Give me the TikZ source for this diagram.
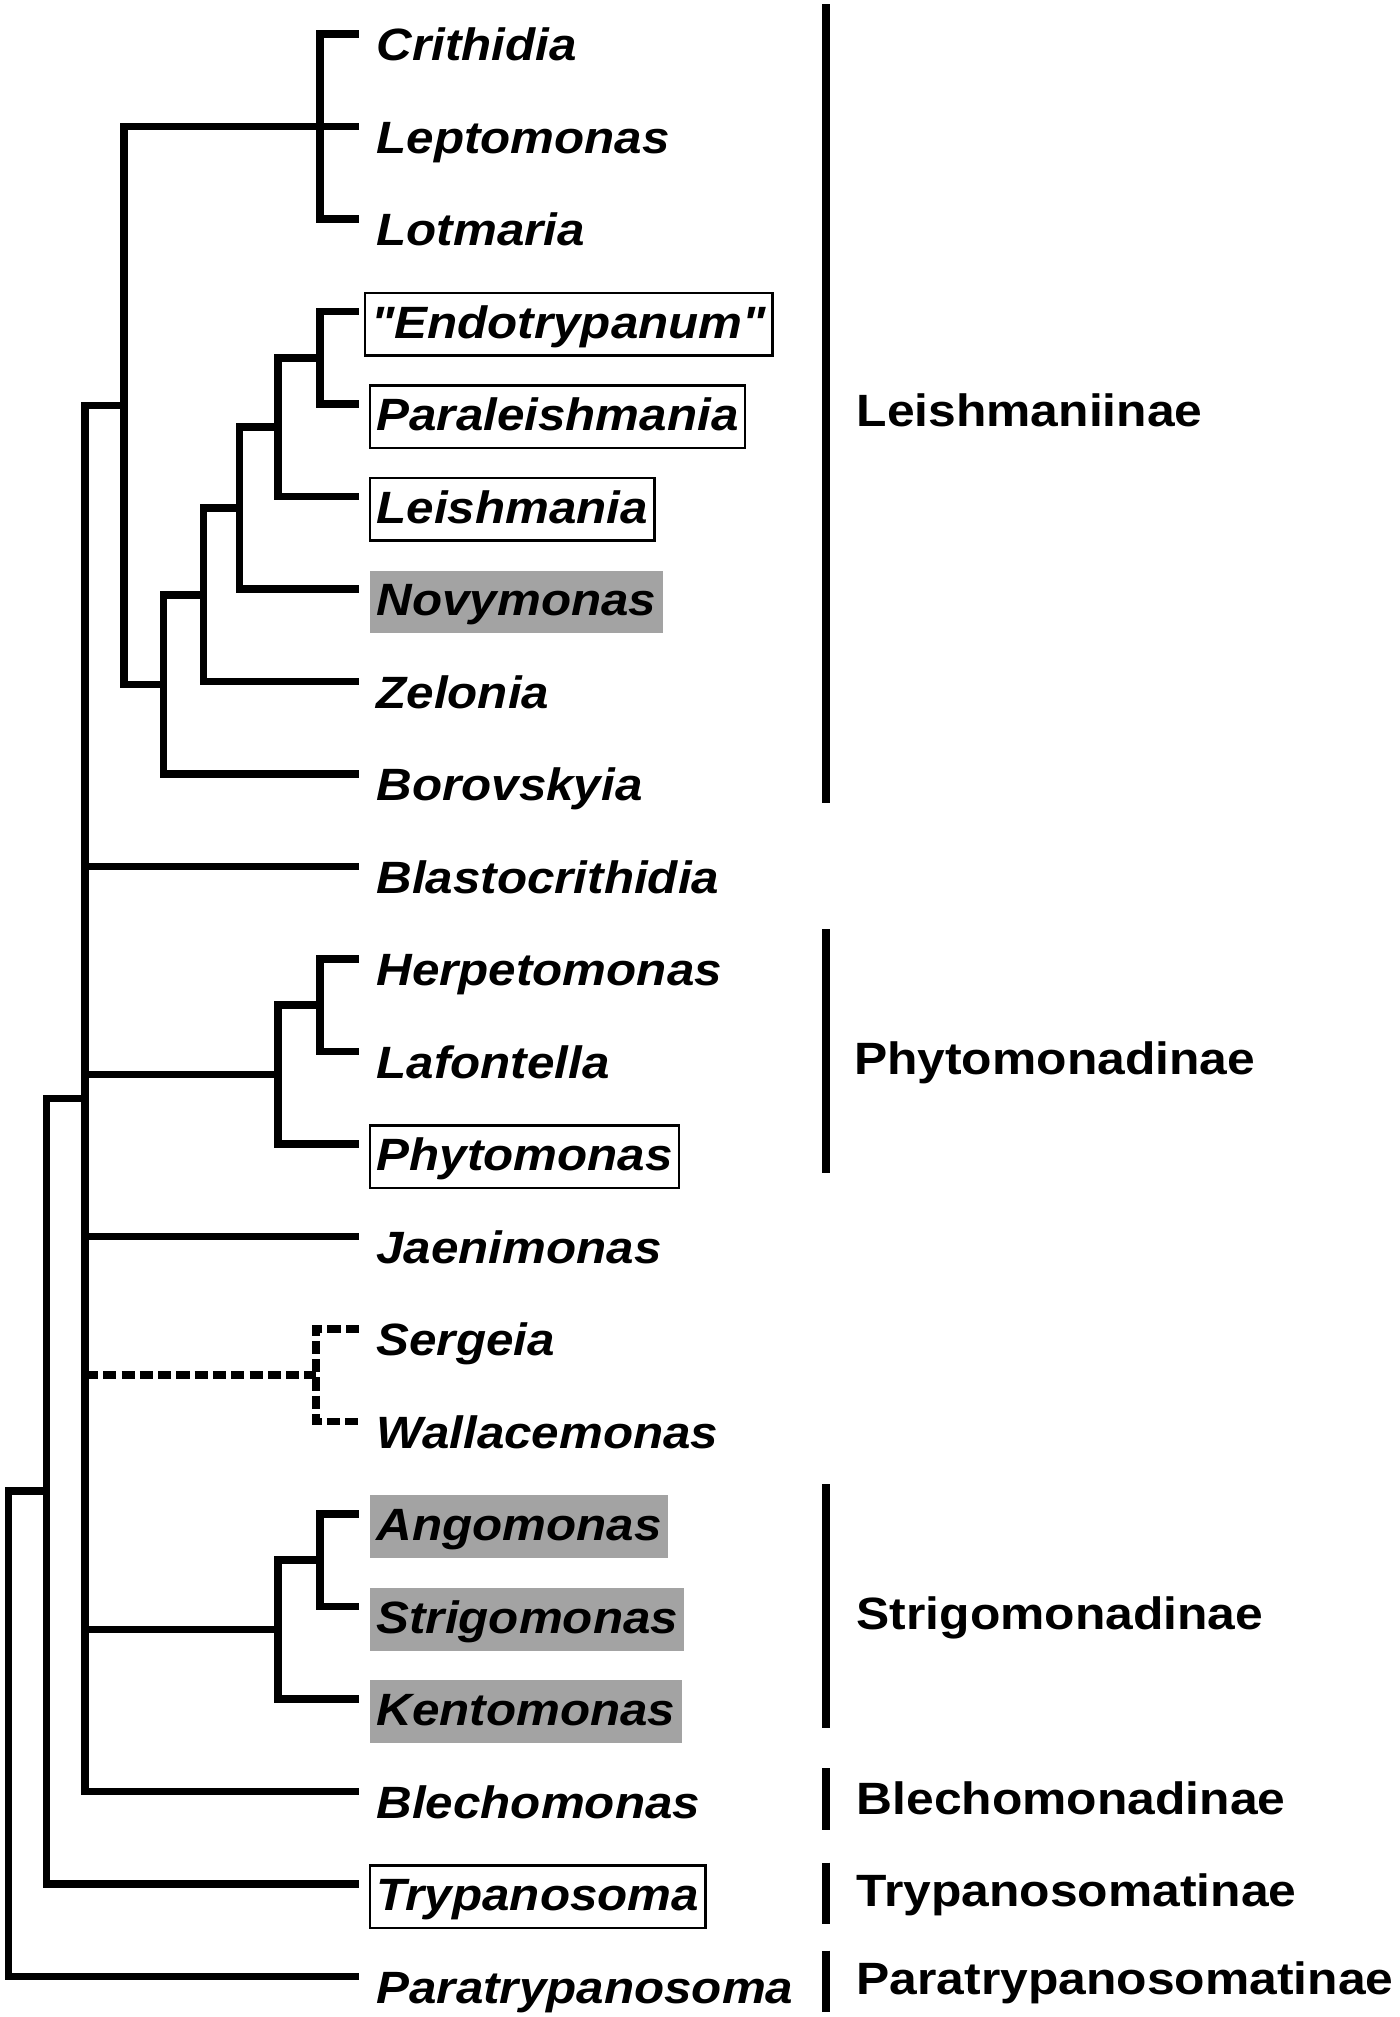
\documentclass[tikz,border=0pt]{standalone}
\usepackage{fontspec}
\setmainfont{Liberation Sans}
\newfontfamily\taxonfont{Liberation Sans}[FakeStretch=1.09]
\newfontfamily\subfamfont{Liberation Sans}[FakeStretch=1.10]
\definecolor{shade}{HTML}{A3A3A3}
\tikzset{
  branch/.style={line width=4.2pt},
  uncertain/.style={line width=4.2pt,dash pattern=on 7.3pt off 2.8pt},
  taxon/.style={anchor=base west,inner xsep=3.5pt,inner ysep=4pt,outer sep=0pt,
    text height=21pt,text depth=5.6pt,xshift=6.2pt,yshift=-14.8pt,
    font=\taxonfont\bfseries\itshape\fontsize{25}{30}\selectfont},
  boxed/.style={draw,line width=1.3pt},
  shaded/.style={fill=shade},
  subfam/.style={anchor=base west,inner sep=0pt,yshift=-12.5pt,
    font=\subfamfont\bfseries\fontsize{25}{30}\selectfont},
  subfambar/.style={line width=4.5pt}
}

\begin{document}
\begin{tikzpicture}[x=0.025cm,y=-1.7955cm]
			\useasboundingbox (0,-0.3676) rectangle (1087,21.4386);

			% leaf tips
			\coordinate (crith_tip) at (278.8,0);
			\coordinate (lept_tip) at (278.8,1);
			\coordinate (lotm_tip) at (278.8,2);
			\coordinate (endo_tip) at (278.8,3);
			\coordinate (paral_tip) at (278.8,4);
			\coordinate (leish_tip) at (278.8,5);
			\coordinate (novy_tip) at (278.8,6);
			\coordinate (zel_tip) at (278.8,7);
			\coordinate (boro_tip) at (278.8,8);
			\coordinate (blasto_tip) at (278.8,9);
			\coordinate (herp_tip) at (278.8,10);
			\coordinate (laf_tip) at (278.8,11);
			\coordinate (phyto_tip) at (278.8,12);
			\coordinate (jaen_tip) at (278.8,13);
			\coordinate (serg_tip) at (278.8,14);
			\coordinate (wall_tip) at (278.8,15);
			\coordinate (ango_tip) at (278.8,16);
			\coordinate (strig_tip) at (278.8,17);
			\coordinate (kento_tip) at (278.8,18);
			\coordinate (blech_tip) at (278.8,19);
			\coordinate (tryp_tip) at (278.8,20);
			\coordinate (paratr_tip) at (278.8,21);

			% inner nodes
			\coordinate (n_crith) at (248.5,1);
			\coordinate (n_endo) at (248.5,3.5);
			\coordinate (n_leish) at (216,4.25);
			\coordinate (n_novy) at (186,5.125);
			\coordinate (n_zel) at (158,6.0625);
			\coordinate (n_boro) at (127,7.03125);
			\coordinate (n_leishinae) at (96.3,4.015625);
			\coordinate (n_herp) at (248.5,10.5);
			\coordinate (n_phyto) at (216,11.25);
			\coordinate (n_serg) at (245.4,14.5);
			\coordinate (n_ango) at (248.5,16.5);
			\coordinate (n_strigo) at (216,17.25);
			\coordinate (n_core) at (66,11.5078);
			\coordinate (n_tryp) at (36.2,15.7539);
			\coordinate (n_root) at (6.5,18.377);

			% taxa
			\node[taxon] (crith) at (crith_tip) {Crithidia};
			\node[taxon] (lept) at (lept_tip) {Leptomonas};
			\node[taxon] (lotm) at (lotm_tip) {Lotmaria};
			\node[taxon,boxed,xshift=-3pt] (endo) at (endo_tip) {"Endotrypanum"};
			\node[taxon,boxed] (paral) at (paral_tip) {Paraleishmania};
			\node[taxon,boxed] (leish) at (leish_tip) {Leishmania};
			\node[taxon,shaded] (novy) at (novy_tip) {Novymonas};
			\node[taxon] (zel) at (zel_tip) {Zelonia};
			\node[taxon] (boro) at (boro_tip) {Borovskyia};
			\node[taxon] (blasto) at (blasto_tip) {Blastocrithidia};
			\node[taxon] (herp) at (herp_tip) {Herpetomonas};
			\node[taxon] (laf) at (laf_tip) {Lafontella};
			\node[taxon,boxed] (phyto) at (phyto_tip) {Phytomonas};
			\node[taxon] (jaen) at (jaen_tip) {Jaenimonas};
			\node[taxon] (serg) at (serg_tip) {Sergeia};
			\node[taxon] (wall) at (wall_tip) {Wallacemonas};
			\node[taxon,shaded] (ango) at (ango_tip) {Angomonas};
			\node[taxon,shaded] (strig) at (strig_tip) {Strigomonas};
			\node[taxon,shaded] (kento) at (kento_tip) {Kentomonas};
			\node[taxon] (blech) at (blech_tip) {Blechomonas};
			\node[taxon,boxed] (tryp) at (tryp_tip) {Trypanosoma};
			\node[taxon] (paratr) at (paratr_tip) {Paratrypanosoma};

			% branches
			\draw[branch] (crith_tip) -| (n_crith) |- (lotm_tip);
			\draw[branch] (lept_tip) -| (n_leishinae) |- (n_boro);
			\draw[branch] (endo_tip) -| (n_endo) |- (paral_tip);
			\draw[branch] (n_endo) -| (n_leish) |- (leish_tip);
			\draw[branch] (n_leish) -| (n_novy) |- (novy_tip);
			\draw[branch] (n_novy) -| (n_zel) |- (zel_tip);
			\draw[branch] (n_zel) -| (n_boro) |- (boro_tip);
			\draw[branch] (n_leishinae) -| (n_core) |- (blech_tip);
			\draw[branch] (n_core |- blasto_tip) -- (blasto_tip);
			\draw[branch] (herp_tip) -| (n_herp) |- (laf_tip);
			\draw[branch] (n_herp) -| (n_phyto) |- (phyto_tip);
			\draw[branch] (n_core |- n_phyto) -- (n_phyto);
			\draw[branch] (n_core |- jaen_tip) -- (jaen_tip);
			\draw[uncertain] (serg_tip) -| (n_serg) |- (wall_tip);
			\draw[uncertain] (n_core |- n_serg) -- (n_serg);
			\draw[branch] (ango_tip) -| (n_ango) |- (strig_tip);
			\draw[branch] (n_ango) -| (n_strigo) |- (kento_tip);
			\draw[branch] (n_core |- n_strigo) -- (n_strigo);
			\draw[branch] (n_core) -| (n_tryp) |- (tryp_tip);
			\draw[branch] (n_tryp) -| (n_root) |- (paratr_tip);

			% subfamilies
			\draw[subfambar] (641.7,-0.32) -- (641.7,8.313);
			\draw[subfambar] (641.7,9.68) -- (641.7,12.313);
			\draw[subfambar] (641.7,15.68) -- (641.7,18.313);
			\draw[subfambar] (641.7,18.75) -- (641.7,19.418);
			\draw[subfambar] (641.7,19.77) -- (641.7,20.43);
			\draw[subfambar] (641.7,20.722) -- (641.7,21.38);
			\node[subfam] (leishmaniinae) at (665,4) {Leishmaniinae};
			\node[subfam] (phytomonadinae) at (663,11) {Phytomonadinae};
			\node[subfam] (strigomonadinae) at (665,17) {Strigomonadinae};
			\node[subfam] (blechomonadinae) at (665,19) {Blechomonadinae};
			\node[subfam] (trypanosomatinae) at (665,20) {Trypanosomatinae};
			\node[subfam,yshift=2.3pt] (paratrypanosomatinae) at (665,21) {Paratrypanosomatinae};
		\end{tikzpicture}
\end{document}
